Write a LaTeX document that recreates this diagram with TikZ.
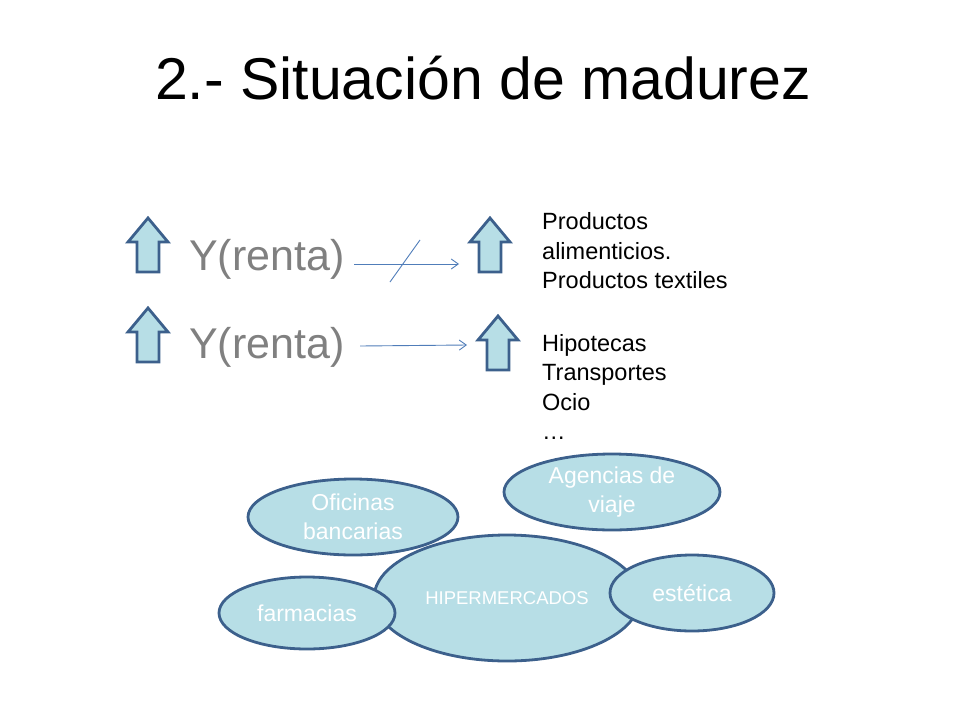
\documentclass[tikz,border=0pt]{standalone}
\usepackage{fontspec}
\setmainfont{Liberation Sans}
\usetikzlibrary{shapes.geometric,arrows.meta}
\definecolor{fillb}{RGB}{183,222,230}
\definecolor{edgeb}{RGB}{60,96,140}
\definecolor{lineb}{RGB}{80,125,185}
\tikzset{
 bubble/.style={ellipse,draw=edgeb,line width=2.8pt,fill=fillb,text=white,align=center,font=\fontsize{23}{29}\selectfont,inner sep=0pt},
 uparrow/.style={draw=edgeb,line width=2.8pt,fill=fillb,line join=miter},
 conn/.style={draw=lineb,line width=0.9pt,-{Straight Barb[length=7pt,width=10pt]}},
 side/.style={anchor=west,align=left,font=\fontsize{23.5}{29.5}\selectfont,inner sep=0pt},
 yr/.style={text=gray,font=\fontsize{43}{46}\selectfont,anchor=west,inner sep=0pt}
}
\newcommand{\uparr}[2]{%
 \draw[uparrow] (#1-11,#2+54) -- (#1-11,#2+24) -- (#1-20,#2+24) -- (#1,#2) -- (#1+20,#2+24) -- (#1+11,#2+24) -- (#1+11,#2+54) -- cycle;}
\begin{document}
\begin{tikzpicture}[x=1pt,y=-1pt]
\useasboundingbox (0,0) rectangle (960,720);
\node[font=\fontsize{59}{64}\selectfont] (title) at (483,78) {2.- Situación de madurez};
\uparr{148}{218}
\uparr{148}{308}
\uparr{490}{218}
\uparr{498}{316}
\node[yr] (y1) at (189,259) {Y(renta)};
\node[yr] (y2) at (189,347) {Y(renta)};
\coordinate (a1) at (354,264); \coordinate (b1) at (459,264);
\coordinate (a2) at (360,346); \coordinate (b2) at (467,345);
\draw[conn] (a1) -- (b1);
\draw[conn] (a2) -- (b2);
\coordinate (s1) at (390,282); \coordinate (s2) at (420,240);
\draw[draw=lineb,line width=0.9pt] (s1) -- (s2);
\node[side] (t1) at (542,251) {Productos\\alimenticios.\\Productos textiles};
\node[side] (t2) at (542,387) {Hipotecas\\Transportes\\Ocio\\…};
\node[bubble,minimum width=266pt,minimum height=126pt,font=\fontsize{18.5}{22}\selectfont] (hip) at (507,598) {HIPERMERCADOS};
\node[bubble,minimum width=210pt,minimum height=76pt] (ofi) at (353,517) {Oficinas\\bancarias};
\node[bubble,minimum width=216pt,minimum height=76pt] (age) at (612,492) {Agencias de\\viaje};
\node[bubble,minimum width=176pt,minimum height=72pt] (far) at (307,613) {farmacias};
\node[bubble,minimum width=164pt,minimum height=76pt] (est) at (692,593) {estética};
\end{tikzpicture}
\end{document}
